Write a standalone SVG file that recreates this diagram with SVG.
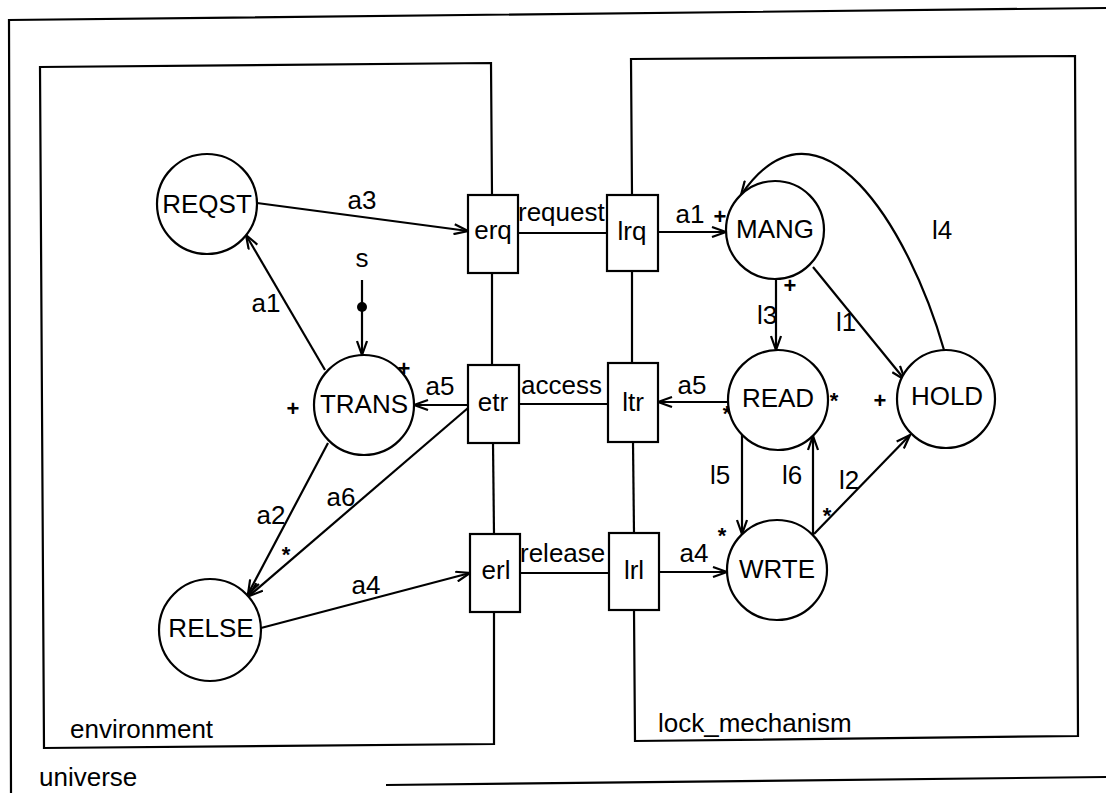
<svg xmlns="http://www.w3.org/2000/svg" width="1106" height="793" viewBox="0 0 1106 793">
<style>
text{font-family:"Liberation Sans",Arial,sans-serif;font-size:26px;fill:#000}
.m{text-anchor:middle}
.sm{font-size:22px;font-weight:bold;text-anchor:middle}
.st{font-size:22px;font-weight:bold;text-anchor:middle}
.b{fill:none;stroke:#000;stroke-width:2.2}
.n{fill:#fff;stroke:#000;stroke-width:2.2}
.c{fill:none;stroke:#000;stroke-width:2.2}
.a{marker-end:url(#ah)}
</style>
<defs>
<marker id="ah" markerUnits="userSpaceOnUse" viewBox="0 0 16 12" refX="15" refY="6" markerWidth="16" markerHeight="12" orient="auto">
<path d="M1,1 L15,6 L1,11" fill="none" stroke="#000" stroke-width="2.2"/>
</marker>
</defs>
<rect width="1106" height="793" fill="#fff"/>
<g id="universe">
<path class="b" d="M1106,8 L9,20 L11,793"/>
<path class="b" d="M386,785 L1106,777"/>
<text x="39" y="786">universe</text>
</g>
<g id="environment">
<path class="b" d="M492,195 L491,63 L40,67 L44,748 L494,744 L494,612"/>
<path class="b" d="M492,273 L492,365"/>
<path class="b" d="M493,443 L494,534"/>
<text x="70" y="738">environment</text>
</g>
<g id="lock_mechanism">
<path class="b" d="M632,195 L631,59 L1075,56 L1078,736 L635,741 L634,610"/>
<path class="b" d="M632,271 L632,363"/>
<path class="b" d="M633,442 L634,533"/>
<text x="658" y="732">lock_mechanism</text>
</g>
<g id="connectors">
<path class="c a" d="M257,203 L468,231"/>
<line class="c a" x1="362" y1="280" x2="362" y2="355"/>
<circle cx="362" cy="307" r="5" fill="#000"/>
<path class="c a" d="M325,370 L246,235"/>
<path class="c a" d="M468,405 L414,405"/>
<path class="c a" d="M468,408 L249,596"/>
<path class="c a" d="M328,443 L248,594"/>
<path class="c a" d="M261,628 L470,573"/>
<path class="c" d="M518,233 L607,233"/>
<path class="c" d="M519,404 L608,404"/>
<path class="c" d="M520,573 L609,573"/>
<path class="c a" d="M658,232 L726,232"/>
<path class="c a" d="M728,402 L658,402"/>
<path class="c a" d="M659,572 L727,572"/>
<path class="c a" d="M776,279 L776,350"/>
<path class="c a" d="M813,267 L905,380"/>
<path class="c a" d="M944,350 C910,230 820,80 741,195"/>
<path class="c a" d="M742,435 L742,534"/>
<path class="c a" d="M813,535 L813,436"/>
<path class="c a" d="M814,534 L910,435"/>
</g>
<g id="labels">
<text class="m" x="362" y="209">a3</text>
<text class="m" x="362" y="267">s</text>
<text class="m" x="266" y="312">a1</text>
<text class="st" x="404" y="376">+</text>
<text class="st" x="293" y="416">+</text>
<text class="m" x="440" y="395">a5</text>
<text x="518" y="221">request</text>
<text x="521" y="394">access</text>
<text x="520" y="562">release</text>
<text class="m" x="271" y="524">a2</text>
<text class="sm" x="286" y="562">*</text>
<text class="m" x="341" y="506">a6</text>
<text class="m" x="366" y="594">a4</text>
<text class="m" x="690" y="223">a1</text>
<text class="st" x="720" y="224">+</text>
<text class="st" x="790" y="293">+</text>
<text class="m" x="767" y="324">l3</text>
<text class="m" x="846" y="331">l1</text>
<text class="m" x="942" y="239">l4</text>
<text class="m" x="692" y="394">a5</text>
<text class="sm" x="834" y="408">*</text>
<text class="sm" x="727" y="421">*</text>
<text class="st" x="880" y="408">+</text>
<text class="m" x="720" y="484">l5</text>
<text class="m" x="792" y="484">l6</text>
<text class="m" x="849" y="489">l2</text>
<text class="sm" x="827" y="523">*</text>
<text class="sm" x="722" y="543">*</text>
<text class="m" x="694" y="562">a4</text>
</g>
<g id="REQST"><circle class="n" cx="207" cy="204" r="50"/><text class="m" x="207" y="213">REQST</text></g>
<g id="TRANS"><circle class="n" cx="364" cy="405" r="50"/><text class="m" x="364" y="413">TRANS</text></g>
<g id="RELSE"><circle class="n" cx="210" cy="630" r="51"/><text class="m" x="211" y="637">RELSE</text></g>
<g id="MANG"><circle class="n" cx="775" cy="230" r="49"/><text class="m" x="775" y="238">MANG</text></g>
<g id="READ"><circle class="n" cx="778" cy="400" r="50"/><text class="m" x="778" y="407">READ</text></g>
<g id="HOLD"><circle class="n" cx="946" cy="399" r="49"/><text class="m" x="947" y="405">HOLD</text></g>
<g id="WRTE"><circle class="n" cx="777" cy="570" r="50"/><text class="m" x="777" y="578">WRTE</text></g>
<g id="erq"><rect class="n" x="468" y="195" width="50" height="78"/><text class="m" x="493" y="239">erq</text></g>
<g id="etr"><rect class="n" x="468" y="365" width="51" height="78"/><text class="m" x="493" y="411">etr</text></g>
<g id="erl"><rect class="n" x="470" y="534" width="50" height="78"/><text class="m" x="496" y="579">erl</text></g>
<g id="lrq"><rect class="n" x="607" y="195" width="51" height="76"/><text class="m" x="632" y="240">lrq</text></g>
<g id="ltr"><rect class="n" x="608" y="363" width="50" height="79"/><text class="m" x="633" y="411">ltr</text></g>
<g id="lrl"><rect class="n" x="609" y="533" width="50" height="77"/><text class="m" x="634" y="579">lrl</text></g>
</svg>
